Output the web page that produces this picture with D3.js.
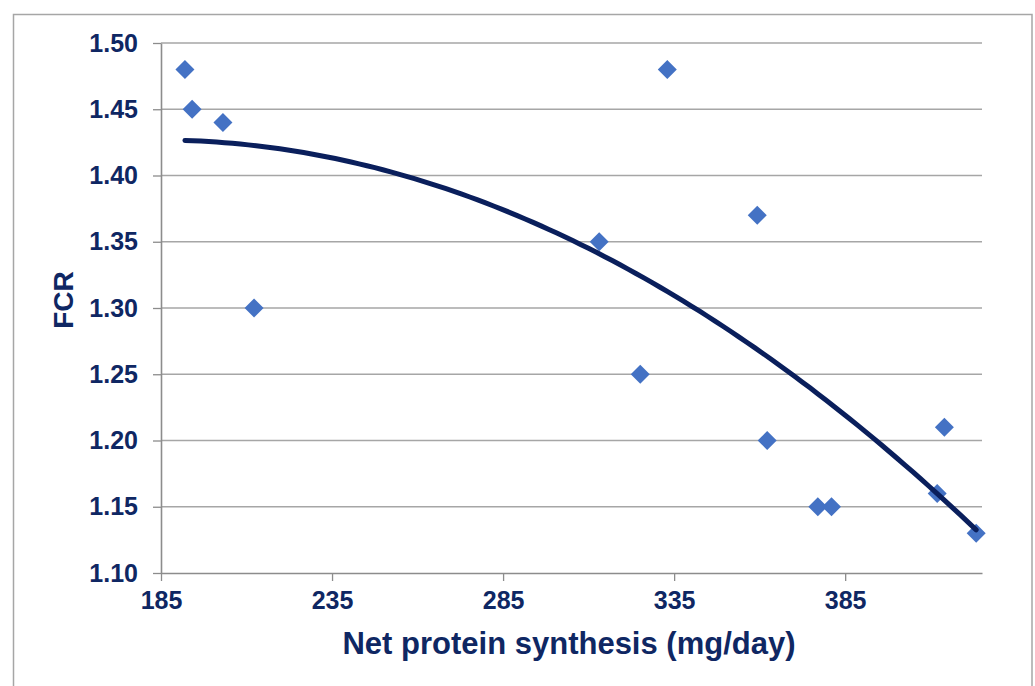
<!DOCTYPE html>
<html><head><meta charset="utf-8">
<script src="https://cdn.jsdelivr.net/npm/d3@7"></script>
<style>
html,body{margin:0;padding:0;background:#fff;}
svg{display:block;font-family:"Liberation Sans",Arial,sans-serif;}
</style></head>
<body>
<svg id="chart" width="1035" height="686"></svg>
<script>
// Data
const proteinSynthesis = [192.0, 194.1, 203.1, 212.2, 313.1, 325.1, 333.0, 359.3, 362.2, 377.0, 381.0, 411.9, 414.0, 423.3];
const fcr = [1.48, 1.45, 1.44, 1.30, 1.35, 1.25, 1.48, 1.37, 1.20, 1.15, 1.15, 1.16, 1.21, 1.13];
const xTicks = [185, 235, 285, 335, 385];
const yTicks = [1.10, 1.15, 1.20, 1.25, 1.30, 1.35, 1.40, 1.45, 1.50];
const xTitle = "Net protein synthesis (mg/day)";
const yTitle = "FCR";

const textColor = "#0f2763";
const svg = d3.select("#chart");
const L = 161, R = 982, T = 43, B = 573;

// outer border
svg.append("rect").attr("x", 13.5).attr("y", 14.5).attr("width", 1018.5).attr("height", 700)
  .attr("fill", "none").attr("stroke", "#a6a6a6").attr("stroke-width", 1.5);

const x = d3.scaleLinear().domain([185, 425]).range([L, R]);
const y = d3.scaleLinear().domain([1.10, 1.50]).range([B, T]);

// gridlines
svg.append("g").selectAll("line").data(yTicks.filter(v => v > 1.10)).join("line")
  .attr("x1", L).attr("x2", R).attr("y1", d => y(d)).attr("y2", d => y(d))
  .attr("stroke", "#a6a6a6").attr("stroke-width", 1.6);

// axes
const yAxis = d3.axisLeft(y).tickValues(yTicks).tickFormat(d3.format(".2f")).tickSizeInner(8).tickSizeOuter(0).tickPadding(15);
const gy = svg.append("g").attr("transform", `translate(${L},0)`).call(yAxis);
const xAxis = d3.axisBottom(x).tickValues(xTicks).tickFormat(d3.format("d")).tickSizeInner(8).tickSizeOuter(0).tickPadding(10);
const gx = svg.append("g").attr("transform", `translate(0,${B})`).call(xAxis);
[gx, gy].forEach(g => {
  g.select(".domain").attr("stroke", "#8c8c8c").attr("stroke-width", 1.6);
  g.selectAll(".tick line").attr("stroke", "#8c8c8c").attr("stroke-width", 1.3);
  g.selectAll(".tick text").attr("fill", textColor).attr("font-size", 25).attr("font-weight", "bold")
    .attr("font-family", "'Liberation Sans', Arial, sans-serif");
});

// points
const pts = proteinSynthesis.map((v, i) => ({ x: v, y: fcr[i] }));
const h = 9.5;
svg.append("g").selectAll("path").data(pts).join("path")
  .attr("d", d => { const cx = x(d.x), cy = y(d.y); return `M${cx},${cy-h}L${cx+h},${cy}L${cx},${cy+h}L${cx-h},${cy}Z`; })
  .attr("fill", "#4472c4");

// polynomial (order 2) trendline: least-squares fit of the data
function polyfit2(xs, ys) {
  const m = d3.mean(xs);
  const S = [0,0,0,0,0], Ty = [0,0,0];
  xs.forEach((xv, i) => { const t = xv - m; for (let k = 0; k < 5; k++) S[k] += t ** k; for (let k = 0; k < 3; k++) Ty[k] += ys[i] * t ** k; });
  const A = [[S[0],S[1],S[2],Ty[0]],[S[1],S[2],S[3],Ty[1]],[S[2],S[3],S[4],Ty[2]]];
  for (let i = 0; i < 3; i++) { for (let j = i+1; j < 3; j++) { const f = A[j][i]/A[i][i]; for (let k = i; k < 4; k++) A[j][k] -= f*A[i][k]; } }
  const c = [0,0,0];
  for (let i = 2; i >= 0; i--) { let s = A[i][3]; for (let k = i+1; k < 3; k++) s -= A[i][k]*c[k]; c[i] = s/A[i][i]; }
  return xv => c[0] + c[1]*(xv-m) + c[2]*(xv-m)**2;
}
const fit = polyfit2(proteinSynthesis, fcr);
const [x0, x1] = d3.extent(proteinSynthesis);
const trend = d3.range(0, 101).map(i => { const xv = x0 + (x1 - x0) * i / 100; return [xv, fit(xv)]; });
svg.append("path").datum(trend)
  .attr("d", d3.line().x(d => x(d[0])).y(d => y(d[1])))
  .attr("fill", "none").attr("stroke", "#0a1f5c").attr("stroke-width", 5).attr("stroke-linecap", "round");

// titles
svg.append("text").attr("x", 569).attr("y", 654).attr("text-anchor", "middle")
  .attr("fill", textColor).attr("font-size", 31).attr("font-weight", "bold").text(xTitle);
svg.append("text").attr("transform", "translate(73,300) rotate(-90)").attr("text-anchor", "middle")
  .attr("fill", textColor).attr("font-size", 28).attr("font-weight", "bold").text(yTitle);
</script>
</body></html>
